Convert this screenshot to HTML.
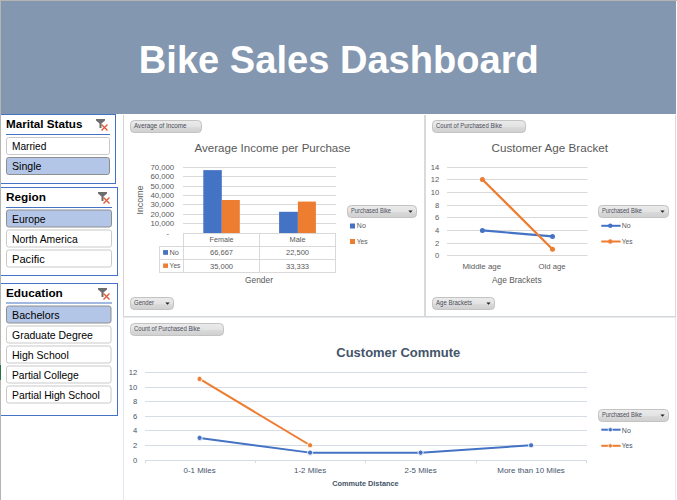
<!DOCTYPE html><html><head><meta charset="utf-8"><title>Bike Sales Dashboard</title>
<style>html,body{margin:0;padding:0;background:#fff;overflow:hidden}svg{display:block}text{font-family:'Liberation Sans', Arial, sans-serif}</style></head><body>
<svg width="677" height="500" viewBox="0 0 677 500">
<defs><linearGradient id="btng" x1="0" y1="0" x2="0" y2="1"><stop offset="0" stop-color="#ebebeb"/><stop offset="0.5" stop-color="#e3e3e3"/><stop offset="0.6" stop-color="#d8d8d8"/><stop offset="1" stop-color="#d0d0d0"/></linearGradient></defs>
<rect x="0" y="0" width="677" height="500" fill="#fff"/>
<rect x="1" y="1" width="675" height="113" fill="#8497B0"/>
<text x="138.8" y="72.9" font-size="39.5" font-weight="bold" fill="#fff" textLength="400" lengthAdjust="spacingAndGlyphs">Bike Sales Dashboard</text>
<rect x="0.5" y="114.5" width="115" height="69" fill="#fff" stroke="#4472C4" stroke-width="1"/>
<text x="6" y="127.7" font-size="10.2" fill="#000" text-anchor="start" font-weight="bold" textLength="76.4" lengthAdjust="spacingAndGlyphs">Marital Status</text>
<path d="M96,119 L105,119 L105,120.5 L101.5,123.5 L101.5,128 L99.5,128 L99.5,123.5 L96,120.5 Z" fill="#6d6d6d"/>
<path d="M101.5,124.5 L107.5,130.5 M107.5,124.5 L101.5,130.5" stroke="#e05a3a" stroke-width="1.4" fill="none"/>
<rect x="6" y="134" width="104" height="1" fill="#4472C4"/>
<rect x="6.5" y="137.5" width="103" height="17" rx="2.2" ry="2.2" fill="#fff" stroke="#c9c9c9" stroke-width="1"/>
<text x="12" y="150" font-size="10.5" fill="#000" text-anchor="start" textLength="34.4" lengthAdjust="spacingAndGlyphs">Married</text>
<rect x="6.5" y="157.5" width="103" height="17" rx="2.2" ry="2.2" fill="#B4C6E7" stroke="#8e8e8e" stroke-width="1"/>
<text x="12" y="170" font-size="10.5" fill="#000" text-anchor="start" textLength="29.4" lengthAdjust="spacingAndGlyphs">Single</text>
<rect x="0.5" y="187.5" width="117" height="88" fill="#fff" stroke="#4472C4" stroke-width="1"/>
<text x="6" y="200.7" font-size="10.2" fill="#000" text-anchor="start" font-weight="bold" textLength="40" lengthAdjust="spacingAndGlyphs">Region</text>
<path d="M98,192 L107,192 L107,193.5 L103.5,196.5 L103.5,201 L101.5,201 L101.5,196.5 L98,193.5 Z" fill="#6d6d6d"/>
<path d="M103.5,197.5 L109.5,203.5 M109.5,197.5 L103.5,203.5" stroke="#e05a3a" stroke-width="1.4" fill="none"/>
<rect x="6" y="207" width="106" height="1" fill="#4472C4"/>
<rect x="6.5" y="210.0" width="105" height="17" rx="2.2" ry="2.2" fill="#B4C6E7" stroke="#8e8e8e" stroke-width="1"/>
<text x="12" y="222.5" font-size="10.5" fill="#000" text-anchor="start" textLength="33.5" lengthAdjust="spacingAndGlyphs">Europe</text>
<rect x="6.5" y="230.0" width="105" height="17" rx="2.2" ry="2.2" fill="#fff" stroke="#c9c9c9" stroke-width="1"/>
<text x="12" y="242.5" font-size="10.5" fill="#000" text-anchor="start" textLength="65.7" lengthAdjust="spacingAndGlyphs">North America</text>
<rect x="6.5" y="250.0" width="105" height="17" rx="2.2" ry="2.2" fill="#fff" stroke="#c9c9c9" stroke-width="1"/>
<text x="12" y="262.5" font-size="10.5" fill="#000" text-anchor="start" textLength="32.8" lengthAdjust="spacingAndGlyphs">Pacific</text>
<rect x="0.5" y="283.5" width="117" height="132" fill="#fff" stroke="#4472C4" stroke-width="1"/>
<text x="6" y="296.7" font-size="10.2" fill="#000" text-anchor="start" font-weight="bold" textLength="56.8" lengthAdjust="spacingAndGlyphs">Education</text>
<path d="M98,288 L107,288 L107,289.5 L103.5,292.5 L103.5,297 L101.5,297 L101.5,292.5 L98,289.5 Z" fill="#6d6d6d"/>
<path d="M103.5,293.5 L109.5,299.5 M109.5,293.5 L103.5,299.5" stroke="#e05a3a" stroke-width="1.4" fill="none"/>
<rect x="6" y="302.5" width="106" height="1" fill="#4472C4"/>
<rect x="6.5" y="306.0" width="104.5" height="17" rx="2.2" ry="2.2" fill="#B4C6E7" stroke="#8e8e8e" stroke-width="1"/>
<text x="12" y="318.5" font-size="10.5" fill="#000" text-anchor="start" textLength="47.6" lengthAdjust="spacingAndGlyphs">Bachelors</text>
<rect x="6.5" y="326.0" width="104.5" height="17" rx="2.2" ry="2.2" fill="#fff" stroke="#c9c9c9" stroke-width="1"/>
<text x="12" y="338.5" font-size="10.5" fill="#000" text-anchor="start" textLength="80.9" lengthAdjust="spacingAndGlyphs">Graduate Degree</text>
<rect x="6.5" y="346.0" width="104.5" height="17" rx="2.2" ry="2.2" fill="#fff" stroke="#c9c9c9" stroke-width="1"/>
<text x="12" y="358.5" font-size="10.5" fill="#000" text-anchor="start" textLength="56.8" lengthAdjust="spacingAndGlyphs">High School</text>
<rect x="6.5" y="366.0" width="104.5" height="17" rx="2.2" ry="2.2" fill="#fff" stroke="#c9c9c9" stroke-width="1"/>
<text x="12" y="378.5" font-size="10.5" fill="#000" text-anchor="start" textLength="66.6" lengthAdjust="spacingAndGlyphs">Partial College</text>
<rect x="6.5" y="386.0" width="104.5" height="17" rx="2.2" ry="2.2" fill="#fff" stroke="#c9c9c9" stroke-width="1"/>
<text x="12" y="398.5" font-size="10.5" fill="#000" text-anchor="start" textLength="87.8" lengthAdjust="spacingAndGlyphs">Partial High School</text>
<rect x="123" y="115" width="1" height="202" fill="#d4d4d4"/>
<rect x="424" y="115" width="2" height="202" fill="#dadada"/>
<rect x="675" y="115" width="1" height="202" fill="#dadada"/>
<rect x="123" y="316" width="553" height="1" fill="#d6d6d6"/>
<rect x="123" y="317" width="553" height="1" fill="#e6eaf2"/>
<rect x="123" y="317" width="1" height="183" fill="#e4e8f0"/>
<rect x="675" y="317" width="1" height="183" fill="#e4e8f0"/>
<rect x="130.5" y="120.5" width="71" height="12" rx="3.8" ry="3.8" fill="url(#btng)" stroke="#c3c3c3" stroke-width="1"/>
<text x="134" y="127.9" font-size="6.6" fill="#474c57" text-anchor="start" textLength="52.5" lengthAdjust="spacingAndGlyphs">Average of Income</text>
<text x="194.5" y="152.2" font-size="11.8" fill="#595959" text-anchor="start" textLength="156" lengthAdjust="spacingAndGlyphs">Average Income per Purchase</text>
<rect x="183" y="223" width="153" height="1" fill="#d9d9d9"/>
<text x="174.2" y="226.3" font-size="7.6" fill="#595959" text-anchor="end" textLength="23.8" lengthAdjust="spacingAndGlyphs">10,000</text>
<rect x="183" y="214" width="153" height="1" fill="#d9d9d9"/>
<text x="174.2" y="217.3" font-size="7.6" fill="#595959" text-anchor="end" textLength="23.8" lengthAdjust="spacingAndGlyphs">20,000</text>
<rect x="183" y="204" width="153" height="1" fill="#d9d9d9"/>
<text x="174.2" y="207.3" font-size="7.6" fill="#595959" text-anchor="end" textLength="23.8" lengthAdjust="spacingAndGlyphs">30,000</text>
<rect x="183" y="195" width="153" height="1" fill="#d9d9d9"/>
<text x="174.2" y="198.3" font-size="7.6" fill="#595959" text-anchor="end" textLength="23.8" lengthAdjust="spacingAndGlyphs">40,000</text>
<rect x="183" y="186" width="153" height="1" fill="#d9d9d9"/>
<text x="174.2" y="189.3" font-size="7.6" fill="#595959" text-anchor="end" textLength="23.8" lengthAdjust="spacingAndGlyphs">50,000</text>
<rect x="183" y="176" width="153" height="1" fill="#d9d9d9"/>
<text x="174.2" y="179.3" font-size="7.6" fill="#595959" text-anchor="end" textLength="23.8" lengthAdjust="spacingAndGlyphs">60,000</text>
<rect x="183" y="167" width="153" height="1" fill="#d9d9d9"/>
<text x="174.2" y="170.3" font-size="7.6" fill="#595959" text-anchor="end" textLength="23.8" lengthAdjust="spacingAndGlyphs">70,000</text>
<text x="169" y="235.5" font-size="7.6" fill="#595959" text-anchor="end">-</text>
<rect x="203.3" y="170.13" width="18.5" height="62.87" fill="#4472C4"/>
<rect x="221.8" y="200.00" width="18.0" height="33.00" fill="#ED7D31"/>
<rect x="279.1" y="211.78" width="18.799999999999955" height="21.22" fill="#4472C4"/>
<rect x="297.9" y="201.57" width="18.0" height="31.43" fill="#ED7D31"/>
<rect x="183" y="233" width="153" height="1" fill="#d9d9d9"/>
<rect x="159" y="246" width="177" height="1" fill="#d9d9d9"/>
<rect x="159" y="259" width="177" height="1" fill="#d9d9d9"/>
<rect x="159" y="272" width="177" height="1" fill="#d9d9d9"/>
<rect x="183" y="233" width="1" height="40" fill="#d9d9d9"/>
<rect x="259" y="233" width="1" height="40" fill="#d9d9d9"/>
<rect x="335" y="233" width="1" height="40" fill="#d9d9d9"/>
<rect x="159" y="246" width="1" height="27" fill="#d9d9d9"/>
<text x="221.5" y="242.3" font-size="8" fill="#595959" text-anchor="middle" textLength="24" lengthAdjust="spacingAndGlyphs">Female</text>
<text x="297.5" y="242.3" font-size="8" fill="#595959" text-anchor="middle" textLength="16" lengthAdjust="spacingAndGlyphs">Male</text>
<text x="221.5" y="255.3" font-size="8" fill="#595959" text-anchor="middle" textLength="23" lengthAdjust="spacingAndGlyphs">66,667</text>
<text x="297.5" y="255.3" font-size="8" fill="#595959" text-anchor="middle" textLength="23" lengthAdjust="spacingAndGlyphs">22,500</text>
<text x="221.5" y="268.8" font-size="8" fill="#595959" text-anchor="middle" textLength="23" lengthAdjust="spacingAndGlyphs">35,000</text>
<text x="297.5" y="268.8" font-size="8" fill="#595959" text-anchor="middle" textLength="23" lengthAdjust="spacingAndGlyphs">33,333</text>
<rect x="163.1" y="250.1" width="4.9" height="4.7" fill="#4472C4"/>
<rect x="163.1" y="263.5" width="4.9" height="4.4" fill="#ED7D31"/>
<text x="169.6" y="254.8" font-size="7.6" fill="#595959" text-anchor="start" textLength="9.3" lengthAdjust="spacingAndGlyphs">No</text>
<text x="169.6" y="267.9" font-size="7.6" fill="#595959" text-anchor="start" textLength="10.8" lengthAdjust="spacingAndGlyphs">Yes</text>
<text x="259" y="283.3" font-size="9.2" fill="#595959" text-anchor="middle" textLength="28" lengthAdjust="spacingAndGlyphs">Gender</text>
<text x="0" y="0" font-size="9.2" fill="#595959" text-anchor="middle" textLength="29" lengthAdjust="spacingAndGlyphs" transform="translate(142.9,200) rotate(-90)">Income</text>
<rect x="347.5" y="205.5" width="69" height="12" rx="3.8" ry="3.8" fill="url(#btng)" stroke="#c3c3c3" stroke-width="1"/>
<text x="351" y="212.9" font-size="6.6" fill="#474c57" text-anchor="start" textLength="40" lengthAdjust="spacingAndGlyphs">Purchased Bike</text>
<path d="M408.3,210.4 L412.7,210.4 L410.5,212.8 Z" fill="#222"/>
<rect x="350" y="223.5" width="5" height="5" fill="#4472C4"/>
<rect x="350" y="239" width="5" height="5" fill="#ED7D31"/>
<text x="356.8" y="227.8" font-size="7.6" fill="#595959" text-anchor="start" textLength="9.0" lengthAdjust="spacingAndGlyphs">No</text>
<text x="356.8" y="244.0" font-size="7.6" fill="#595959" text-anchor="start" textLength="10.8" lengthAdjust="spacingAndGlyphs">Yes</text>
<rect x="130.5" y="297.5" width="43" height="12" rx="3.8" ry="3.8" fill="url(#btng)" stroke="#c3c3c3" stroke-width="1"/>
<text x="134" y="304.9" font-size="6.6" fill="#474c57" text-anchor="start" textLength="20" lengthAdjust="spacingAndGlyphs">Gender</text>
<path d="M165.3,302.4 L169.7,302.4 L167.5,304.8 Z" fill="#222"/>
<rect x="432.5" y="120.5" width="93" height="12" rx="3.8" ry="3.8" fill="url(#btng)" stroke="#c3c3c3" stroke-width="1"/>
<text x="436" y="127.9" font-size="6.6" fill="#474c57" text-anchor="start" textLength="66" lengthAdjust="spacingAndGlyphs">Count of Purchased Bike</text>
<text x="491.5" y="152.2" font-size="11.8" fill="#595959" text-anchor="start" textLength="116.5" lengthAdjust="spacingAndGlyphs">Customer Age Bracket</text>
<rect x="447" y="255" width="140.5" height="1" fill="#d9d9d9"/>
<text x="439.3" y="258.3" font-size="7.6" fill="#595959" text-anchor="end">0</text>
<rect x="447" y="243" width="140.5" height="1" fill="#d9d9d9"/>
<text x="439.3" y="246.3" font-size="7.6" fill="#595959" text-anchor="end">2</text>
<rect x="447" y="230" width="140.5" height="1" fill="#d9d9d9"/>
<text x="439.3" y="233.3" font-size="7.6" fill="#595959" text-anchor="end">4</text>
<rect x="447" y="217" width="140.5" height="1" fill="#d9d9d9"/>
<text x="439.3" y="220.3" font-size="7.6" fill="#595959" text-anchor="end">6</text>
<rect x="447" y="205" width="140.5" height="1" fill="#d9d9d9"/>
<text x="439.3" y="208.3" font-size="7.6" fill="#595959" text-anchor="end">8</text>
<rect x="447" y="192" width="140.5" height="1" fill="#d9d9d9"/>
<text x="439.3" y="195.3" font-size="7.6" fill="#595959" text-anchor="end">10</text>
<rect x="447" y="179" width="140.5" height="1" fill="#d9d9d9"/>
<text x="439.3" y="182.3" font-size="7.6" fill="#595959" text-anchor="end">12</text>
<rect x="447" y="167" width="140.5" height="1" fill="#d9d9d9"/>
<text x="439.3" y="170.3" font-size="7.6" fill="#595959" text-anchor="end">14</text>
<path d="M482.40,230.40 L552.50,236.40" fill="none" stroke="#4472C4" stroke-width="2.2" stroke-linejoin="round" stroke-linecap="round"/>
<circle cx="482.40" cy="230.40" r="2.5" fill="#4472C4"/>
<circle cx="552.50" cy="236.40" r="2.5" fill="#4472C4"/>
<path d="M482.40,179.50 L552.50,249.20" fill="none" stroke="#ED7D31" stroke-width="2.3" stroke-linejoin="round" stroke-linecap="round"/>
<circle cx="482.40" cy="179.50" r="2.5" fill="#ED7D31"/>
<circle cx="552.50" cy="249.20" r="2.5" fill="#ED7D31"/>
<text x="481.8" y="269.0" font-size="7.8" fill="#595959" text-anchor="middle" textLength="38.8" lengthAdjust="spacingAndGlyphs">Middle age</text>
<text x="552" y="269.0" font-size="7.8" fill="#595959" text-anchor="middle" textLength="27" lengthAdjust="spacingAndGlyphs">Old age</text>
<text x="516.8" y="283.2" font-size="9.0" fill="#595959" text-anchor="middle" textLength="49.5" lengthAdjust="spacingAndGlyphs">Age Brackets</text>
<rect x="598.5" y="205.5" width="70" height="12" rx="3.8" ry="3.8" fill="url(#btng)" stroke="#c3c3c3" stroke-width="1"/>
<text x="602" y="212.9" font-size="6.6" fill="#474c57" text-anchor="start" textLength="40" lengthAdjust="spacingAndGlyphs">Purchased Bike</text>
<path d="M660.3,210.4 L664.7,210.4 L662.5,212.8 Z" fill="#222"/>
<path d="M601.3,225.8 L620.6,225.8" stroke="#4472C4" stroke-width="2"/><circle cx="610.3" cy="225.8" r="2.2" fill="#4472C4"/>
<path d="M601.3,241.5 L620.6,241.5" stroke="#ED7D31" stroke-width="2"/><circle cx="610.3" cy="241.5" r="2.2" fill="#ED7D31"/>
<text x="621.8" y="228.2" font-size="7.6" fill="#595959" text-anchor="start" textLength="8.9" lengthAdjust="spacingAndGlyphs">No</text>
<text x="621.8" y="244.1" font-size="7.6" fill="#595959" text-anchor="start" textLength="10.8" lengthAdjust="spacingAndGlyphs">Yes</text>
<rect x="432.5" y="297.5" width="62" height="12" rx="3.8" ry="3.8" fill="url(#btng)" stroke="#c3c3c3" stroke-width="1"/>
<text x="436" y="304.9" font-size="6.6" fill="#474c57" text-anchor="start" textLength="36" lengthAdjust="spacingAndGlyphs">Age Brackets</text>
<path d="M486.3,302.4 L490.7,302.4 L488.5,304.8 Z" fill="#222"/>
<rect x="130.5" y="323.5" width="93" height="12" rx="3.8" ry="3.8" fill="url(#btng)" stroke="#c3c3c3" stroke-width="1"/>
<text x="134" y="330.9" font-size="6.6" fill="#474c57" text-anchor="start" textLength="66" lengthAdjust="spacingAndGlyphs">Count of Purchased Bike</text>
<text x="336.3" y="356.7" font-size="12.4" fill="#44546A" text-anchor="start" font-weight="bold" textLength="124" lengthAdjust="spacingAndGlyphs">Customer Commute</text>
<rect x="145" y="460" width="442" height="1" fill="#d6dce5"/>
<text x="137.2" y="463.3" font-size="7.6" fill="#44546A" text-anchor="end">0</text>
<rect x="145" y="445" width="442" height="1" fill="#d6dce5"/>
<text x="137.2" y="448.3" font-size="7.6" fill="#44546A" text-anchor="end">2</text>
<rect x="145" y="430" width="442" height="1" fill="#d6dce5"/>
<text x="137.2" y="433.3" font-size="7.6" fill="#44546A" text-anchor="end">4</text>
<rect x="145" y="416" width="442" height="1" fill="#d6dce5"/>
<text x="137.2" y="419.3" font-size="7.6" fill="#44546A" text-anchor="end">6</text>
<rect x="145" y="401" width="442" height="1" fill="#d6dce5"/>
<text x="137.2" y="404.3" font-size="7.6" fill="#44546A" text-anchor="end">8</text>
<rect x="145" y="387" width="442" height="1" fill="#d6dce5"/>
<text x="137.2" y="390.3" font-size="7.6" fill="#44546A" text-anchor="end">10</text>
<rect x="145" y="372" width="442" height="1" fill="#d6dce5"/>
<text x="137.2" y="375.3" font-size="7.6" fill="#44546A" text-anchor="end">12</text>
<rect x="255" y="460" width="1" height="3" fill="#d6dce5"/>
<rect x="365" y="460" width="1" height="3" fill="#d6dce5"/>
<rect x="476" y="460" width="1" height="3" fill="#d6dce5"/>
<rect x="586" y="460" width="1" height="3" fill="#d6dce5"/>
<rect x="145" y="460" width="1" height="3" fill="#d6dce5"/>
<path d="M199.60,437.89 L310.10,452.63 L420.60,452.63 L531.10,445.26" fill="none" stroke="#4472C4" stroke-width="2.0" stroke-linejoin="round" stroke-linecap="round"/>
<circle cx="199.60" cy="437.89" r="2.6" fill="#4472C4" stroke="#fff" stroke-width="0.9"/>
<circle cx="310.10" cy="452.63" r="2.6" fill="#4472C4" stroke="#fff" stroke-width="0.9"/>
<circle cx="420.60" cy="452.63" r="2.6" fill="#4472C4" stroke="#fff" stroke-width="0.9"/>
<circle cx="531.10" cy="445.26" r="2.6" fill="#4472C4" stroke="#fff" stroke-width="0.9"/>
<path d="M199.60,378.93 L310.10,445.26" fill="none" stroke="#ED7D31" stroke-width="2.0" stroke-linejoin="round" stroke-linecap="round"/>
<circle cx="199.60" cy="378.93" r="2.6" fill="#ED7D31" stroke="#fff" stroke-width="0.9"/>
<circle cx="310.10" cy="445.26" r="2.6" fill="#ED7D31" stroke="#fff" stroke-width="0.9"/>
<text x="199.6" y="473.0" font-size="7.6" fill="#44546A" text-anchor="middle" textLength="32" lengthAdjust="spacingAndGlyphs">0-1 Miles</text>
<text x="310.1" y="473.0" font-size="7.6" fill="#44546A" text-anchor="middle" textLength="32" lengthAdjust="spacingAndGlyphs">1-2 Miles</text>
<text x="420.6" y="473.0" font-size="7.6" fill="#44546A" text-anchor="middle" textLength="32" lengthAdjust="spacingAndGlyphs">2-5 Miles</text>
<text x="531.1" y="473.0" font-size="7.6" fill="#44546A" text-anchor="middle" textLength="67.5" lengthAdjust="spacingAndGlyphs">More than 10 Miles</text>
<text x="365.4" y="486.0" font-size="7.4" fill="#44546A" text-anchor="middle" font-weight="bold" textLength="66.5" lengthAdjust="spacingAndGlyphs">Commute Distance</text>
<rect x="598.5" y="409.5" width="70" height="12" rx="3.8" ry="3.8" fill="url(#btng)" stroke="#c3c3c3" stroke-width="1"/>
<text x="602" y="416.9" font-size="6.6" fill="#474c57" text-anchor="start" textLength="40" lengthAdjust="spacingAndGlyphs">Purchased Bike</text>
<path d="M660.3,414.4 L664.7,414.4 L662.5,416.8 Z" fill="#222"/>
<path d="M601.3,429.7 L620.6,429.7" stroke="#4472C4" stroke-width="2"/><circle cx="610.3" cy="429.7" r="2.1" fill="#4472C4" stroke="#fff" stroke-width="0.7"/>
<path d="M601.3,445.8 L620.6,445.8" stroke="#ED7D31" stroke-width="2"/><circle cx="610.3" cy="445.8" r="2.1" fill="#ED7D31" stroke="#fff" stroke-width="0.7"/>
<text x="621.8" y="433.1" font-size="7.6" fill="#44546A" text-anchor="start" textLength="9.0" lengthAdjust="spacingAndGlyphs">No</text>
<text x="621.8" y="448.1" font-size="7.6" fill="#44546A" text-anchor="start" textLength="10.8" lengthAdjust="spacingAndGlyphs">Yes</text>
<rect x="0" y="0" width="677" height="1" fill="#b5b4b2"/>
<rect x="0" y="0" width="1" height="500" fill="#b5b4b2"/>
<rect x="0" y="365" width="1" height="15" fill="#217346"/>
</svg></body></html>
